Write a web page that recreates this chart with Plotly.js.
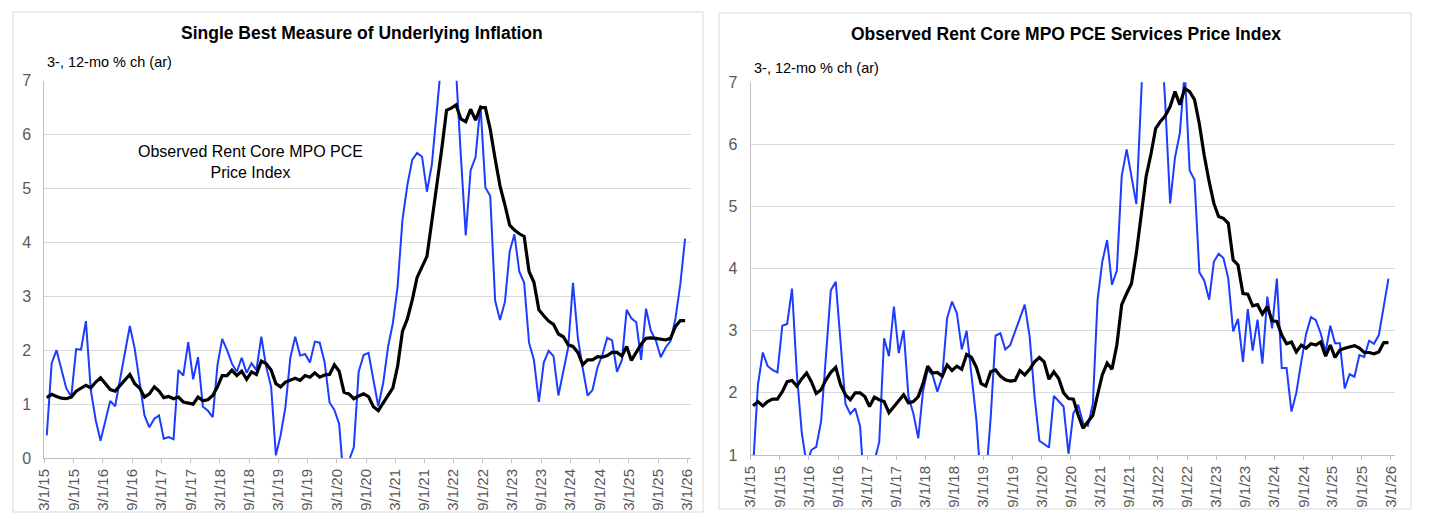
<!DOCTYPE html>
<html>
<head>
<meta charset="utf-8">
<script src="https://cdn.plot.ly/plotly-3.0.1.min.js"></script>
<style>
  html, body { margin: 0; padding: 0; background: #ffffff; }
  #chart { width: 1429px; height: 528px; }
</style>
</head>
<body>
<div id="chart"></div>
<script>
// ---- Data (monthly, Mar 2015 .. Feb 2026) ----
const startYear = 2015, startMonth = 3, nMonths = 132;

const leftTitle = "Single Best Measure of Underlying Inflation";
const rightTitle = "Observed Rent Core MPO PCE Services Price Index";
const unitsLabel = "3-, 12-mo % ch (ar)";
const noteText = "Observed Rent Core MPO PCE<br>Price Index";

const tickLabels = ['3/1/15','9/1/15','3/1/16','9/1/16','3/1/17','9/1/17','3/1/18','9/1/18',
  '3/1/19','9/1/19','3/1/20','9/1/20','3/1/21','9/1/21','3/1/22','9/1/22','3/1/23','9/1/23',
  '3/1/24','9/1/24','3/1/25','9/1/25','3/1/26'];
const tickDates = ['2015-03-01','2015-09-01','2016-03-01','2016-09-01','2017-03-01','2017-09-01',
  '2018-03-01','2018-09-01','2019-03-01','2019-09-01','2020-03-01','2020-09-01','2021-03-01',
  '2021-09-01','2022-03-01','2022-09-01','2023-03-01','2023-09-01','2024-03-01','2024-09-01',
  '2025-03-01','2025-09-01','2026-03-01'];

// Left panel: 3-month (blue) and 12-month (black)
const left3mo = [
  0.42,1.76,2.00,1.64,1.29,1.14,2.02,2.01,2.54,1.26,
  0.70,0.32,0.70,1.06,0.96,1.44,1.94,2.45,2.03,1.44,
  0.79,0.57,0.73,0.79,0.36,0.39,0.35,1.63,1.53,2.15,
  1.46,1.87,0.95,0.88,0.76,1.72,2.21,2.00,1.75,1.60,
  1.86,1.58,1.76,1.63,2.25,1.69,1.32,0.05,0.42,0.95,
  1.86,2.25,1.90,1.93,1.77,2.16,2.14,1.78,1.03,0.89,
  0.63,-0.50,-0.05,0.20,1.60,1.91,1.95,1.45,0.96,1.39,
  2.07,2.50,3.18,4.42,5.06,5.53,5.66,5.59,4.94,5.44,
  6.50,7.80,8.40,8.00,7.20,5.60,4.13,5.34,5.58,6.55,
  5.02,4.86,2.92,2.56,2.90,3.83,4.15,3.46,3.25,2.14,
  1.82,1.04,1.77,1.99,1.89,1.16,1.60,2.05,3.25,2.23,
  1.66,1.16,1.26,1.68,1.91,2.23,2.18,1.60,1.82,2.75,
  2.59,2.52,1.82,2.77,2.36,2.18,1.87,2.05,2.17,2.58,
  3.23,4.07];
const left12mo = [
  1.12,1.18,1.14,1.11,1.10,1.13,1.24,1.29,1.35,1.30,
  1.41,1.49,1.38,1.27,1.24,1.35,1.45,1.55,1.38,1.30,
  1.13,1.19,1.32,1.24,1.12,1.14,1.10,1.13,1.04,1.02,
  1.00,1.13,1.06,1.08,1.16,1.32,1.53,1.53,1.63,1.53,
  1.61,1.46,1.60,1.55,1.80,1.75,1.63,1.38,1.32,1.41,
  1.44,1.48,1.44,1.53,1.50,1.58,1.50,1.54,1.55,1.73,
  1.61,1.22,1.19,1.10,1.15,1.19,1.14,0.95,0.88,1.02,
  1.17,1.30,1.70,2.35,2.58,2.93,3.35,3.54,3.74,4.39,
  5.03,5.71,6.45,6.49,6.55,6.29,6.24,6.47,6.27,6.50,
  6.50,6.10,5.55,5.05,4.69,4.32,4.23,4.16,4.11,3.46,
  3.26,2.75,2.64,2.54,2.48,2.30,2.25,2.10,2.07,1.96,
  1.73,1.82,1.82,1.88,1.87,1.90,1.96,1.96,1.89,2.07,
  1.81,1.96,2.11,2.22,2.23,2.22,2.21,2.19,2.22,2.44,
  2.55,2.55];

// Right panel: 3-month (blue) and 12-month (black)
const right3mo = [
  0.80,2.13,2.65,2.43,2.37,2.33,3.08,3.11,3.68,2.30,
  1.35,0.85,1.08,1.13,1.54,2.58,3.65,3.79,2.83,1.82,
  1.66,1.75,1.46,0.30,0.30,0.90,1.21,2.88,2.59,3.39,
  2.64,3.01,1.94,1.67,1.27,2.02,2.37,2.29,2.02,2.26,
  3.20,3.47,3.28,2.70,3.00,2.26,1.56,0.50,0.60,1.60,
  2.92,2.96,2.70,2.77,2.98,3.20,3.42,2.91,1.94,1.23,
  1.17,1.12,1.95,1.87,1.78,1.02,1.67,1.81,1.51,1.47,
  1.83,3.50,4.11,4.46,3.74,3.97,5.49,5.92,5.48,5.04,
  6.80,8.50,9.00,8.50,8.00,6.65,5.05,5.79,6.18,7.20,
  5.58,5.43,3.94,3.81,3.50,4.11,4.24,4.17,3.84,2.99,
  3.19,2.50,3.35,2.68,3.18,2.47,3.55,3.04,3.84,2.40,
  2.40,1.70,2.00,2.50,2.95,3.22,3.17,2.96,2.66,3.08,
  2.80,2.80,2.07,2.30,2.26,2.61,2.58,2.84,2.79,2.93,
  3.39,3.84];
const right12mo = [
  1.79,1.86,1.79,1.86,1.90,1.90,2.02,2.18,2.20,2.11,
  2.23,2.32,2.18,1.99,2.05,2.21,2.33,2.41,2.13,1.97,
  1.89,2.00,2.00,1.94,1.78,1.93,1.89,1.86,1.68,1.78,
  1.86,1.97,1.84,1.86,1.94,2.15,2.43,2.32,2.33,2.27,
  2.45,2.36,2.43,2.38,2.62,2.57,2.41,2.15,2.11,2.34,
  2.37,2.27,2.21,2.19,2.20,2.36,2.29,2.38,2.50,2.57,
  2.50,2.22,2.34,2.23,2.00,1.91,1.90,1.64,1.43,1.54,
  1.64,1.97,2.29,2.48,2.38,2.77,3.42,3.60,3.76,4.25,
  4.89,5.48,5.85,6.26,6.37,6.46,6.61,6.85,6.64,6.90,
  6.85,6.72,6.33,5.82,5.40,5.05,4.84,4.81,4.73,4.14,
  4.06,3.60,3.59,3.40,3.42,3.27,3.39,3.16,3.15,2.93,
  2.79,2.82,2.66,2.77,2.72,2.79,2.77,2.82,2.59,2.77,
  2.57,2.69,2.72,2.74,2.76,2.72,2.65,2.65,2.63,2.66,
  2.81,2.81];

// month dates
const months = [];
for (let k = 0; k < nMonths; k++) {
  const t = (startMonth - 1) + k;
  const y = startYear + Math.floor(t / 12);
  const m = (t % 12) + 1;
  months.push(y + '-' + String(m).padStart(2, '0') + '-01');
}

// ---- Styling ----
const FONT = 'Liberation Sans, Arial, Helvetica, sans-serif';
const BLUE = '#1c3cff';
const W = 1429, H = 528;
const px = v => v / W;
const py = v => 1 - v / H;

function line(xa, ya, yv, color, width) {
  return {
    type: 'scatter', mode: 'lines', x: months, y: yv,
    xaxis: xa, yaxis: ya,
    xperiod: 'M1', xperiodalignment: 'middle',
    line: { color: color, width: width },
    hoverinfo: 'skip', showlegend: false
  };
}

const traces = [
  line('x', 'y', left3mo, BLUE, 2),
  line('x', 'y', left12mo, '#000000', 3.2),
  line('x2', 'y2', right3mo, BLUE, 2),
  line('x2', 'y2', right12mo, '#000000', 3.2)
];

function xAxis(domain, end, anchor) {
  return {
    type: 'date', domain: domain, range: ['2015-03-01', end], anchor: anchor,
    tickvals: tickDates, ticktext: tickLabels, tickangle: -90,
    tickfont: { family: FONT, size: 15, color: '#595959' },
    ticks: 'outside', ticklen: 4, tickcolor: '#bfbfbf',
    showline: true, linecolor: '#bfbfbf', linewidth: 1,
    showgrid: false, zeroline: false, fixedrange: true
  };
}
function yAxis(domain, range, anchor) {
  return {
    domain: domain, range: range, dtick: 1, tick0: 0, anchor: anchor,
    tickfont: { family: FONT, size: 16, color: '#595959' },
    ticks: '', ticklabelstandoff: 9,
    showline: true, linecolor: '#bfbfbf', linewidth: 1,
    showgrid: true, gridcolor: '#d9d9d9', gridwidth: 1,
    zeroline: false, fixedrange: true
  };
}

const layout = {
  width: W, height: H,
  margin: { l: 0, r: 0, t: 0, b: 0 },
  paper_bgcolor: '#ffffff', plot_bgcolor: '#ffffff',
  showlegend: false,
  xaxis: xAxis([px(44.3), px(691)], '2026-03-24', 'y'),
  yaxis: yAxis([py(458), py(80.7)], [0, 7], 'x'),
  xaxis2: xAxis([px(750.6), px(1395)], '2026-03-28', 'y2'),
  yaxis2: yAxis([py(455), py(82.3)], [1, 7], 'x2'),
  shapes: [
    { type: 'rect', xref: 'paper', yref: 'paper', x0: px(13), x1: px(703), y0: py(512), y1: py(12),
      line: { color: '#d9d9d9', width: 1 }, fillcolor: 'rgba(0,0,0,0)', layer: 'below' },
    { type: 'rect', xref: 'paper', yref: 'paper', x0: px(719), x1: px(1411), y0: py(509), y1: py(13),
      line: { color: '#d9d9d9', width: 1 }, fillcolor: 'rgba(0,0,0,0)', layer: 'below' }
  ],
  annotations: [
    { xref: 'paper', yref: 'paper', x: px(361.5), y: py(33), xanchor: 'center', yanchor: 'middle',
      text: '<b>' + leftTitle + '</b>', showarrow: false, font: { family: FONT, size: 17.5, color: '#000' } },
    { xref: 'paper', yref: 'paper', x: px(1065.5), y: py(34), xanchor: 'center', yanchor: 'middle',
      text: '<b>' + rightTitle + '</b>', showarrow: false, font: { family: FONT, size: 17.5, color: '#000' } },
    { xref: 'paper', yref: 'paper', x: px(45), y: py(62), xanchor: 'left', yanchor: 'middle',
      text: unitsLabel, showarrow: false, font: { family: FONT, size: 14.5, color: '#000' } },
    { xref: 'paper', yref: 'paper', x: px(752), y: py(68), xanchor: 'left', yanchor: 'middle',
      text: unitsLabel, showarrow: false, font: { family: FONT, size: 14.5, color: '#000' } },
    { xref: 'paper', yref: 'paper', x: px(250), y: py(161.5), xanchor: 'center', yanchor: 'middle',
      text: noteText, align: 'center', showarrow: false, font: { family: FONT, size: 16, color: '#000' } }
  ]
};

Plotly.newPlot('chart', traces, layout, { staticPlot: true, displayModeBar: false });
</script>
</body>
</html>
